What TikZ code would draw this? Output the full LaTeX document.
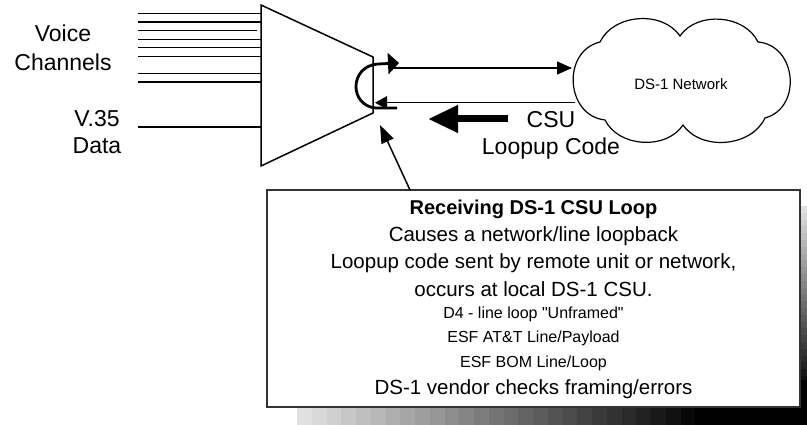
\documentclass[tikz,border=0pt]{standalone}
\usepackage{fontspec}
\setmainfont{Liberation Sans}
\setmonofont{Liberation Sans}
\usetikzlibrary{arrows.meta}
\newcommand{\sq}{{\ttfamily\char34}}
\begin{document}
\begin{tikzpicture}[x=1pt,y=-1pt,
  wire/.style={line width=1.2pt},
  edge/.style={line width=1.5pt},
  lbl/.style={font=\fontsize{23}{26}\selectfont, inner sep=0pt},
  boxtxt/.style={font=\fontsize{20.5}{22}\selectfont, inner sep=0pt},
  boxbold/.style={font=\fontsize{20}{22}\selectfont\bfseries, inner sep=0pt},
  boxsmall/.style={font=\fontsize{16}{18}\selectfont, inner sep=0pt},
  cloudtxt/.style={font=\fontsize{15}{17}\selectfont, inner sep=0pt}]
\useasboundingbox (0,0) rectangle (807,425);

% gradient shadow behind the box
\begin{scope}
\clip (297,206) rectangle (807,425);
\foreach \k in {0,...,27}{
  \pgfmathsetmacro\g{12+88*\k/27}
  \fill[black!\g] ({297+\k*14.75},380) rectangle ({297+(\k+1)*14.75+0.3},425);
  \fill[black!\g] (790,{206+\k*6.8}) rectangle (807,{206+(\k+1)*6.8+0.3});
}
\fill[black!100] (700,380) rectangle (807,425);
\fill[black, rounded corners=30pt] (700,395) rectangle (850,460);
\end{scope}

% info box
\node[draw=black!80, line width=1.6pt, fill=white, minimum width=533pt,
      minimum height=217pt, inner sep=0pt] (info) at (533.5,298.5) {};
\node[boxbold]  (t1) at (533.5,209) {Receiving DS-1 CSU Loop};
\node[boxtxt]   (t2) at (533.5,236) {Causes a network/line loopback};
\node[boxtxt]   (t3) at (533.5,263) {Loopup code sent by remote unit or network,};
\node[boxtxt]   (t4) at (533.5,289) {occurs at local DS-1 CSU.};
\node[boxsmall] (t5) at (533.5,314) {D4 - line loop \sq Unframed\sq};
\node[boxsmall] (t6) at (533.5,338) {ESF AT\&T Line/Payload};
\node[boxsmall] (t7) at (533.5,363) {ESF BOM Line/Loop};
\node[boxtxt]   (t8) at (533.5,389) {DS-1 vendor checks framing/errors};

% multiplexer
\coordinate (mtl) at (261,5);
\coordinate (mtr) at (373,57);
\coordinate (mbr) at (373,113);
\coordinate (mbl) at (261,166);
\draw[edge] (mtl) -- (mtr) -- (mbr) -- (mbl) -- cycle;

% input lines
\foreach \y in {13.3,22,39.3,47.7,56.3,73.3,82}{
  \draw[wire] (138,\y) -- (261,\y);
}
\draw[wire] (138,30.3) -- (257,30.3);
\draw[wire] (138,127) -- (261,127);

\node[lbl] (voice) at (63,33) {Voice};
\node[lbl] (chan)  at (63,62) {Channels};
\node[lbl] (v35)   at (97,119) {V.35};
\node[lbl] (data)  at (97,146) {Data};

% cloud
\draw[line width=1.2pt]
  (600,42) to[bend left=60] (680,36)
           to[bend left=60] (758,42)
           to[bend left=80, looseness=1.3] (765,118)
           to[bend left=60] (683,125)
           to[bend left=60] (605,120)
           to[bend left=80, looseness=1.3] cycle;
\node[cloudtxt] (net) at (681,84) {DS-1 Network};
\coordinate (netin) at (572,68);
\coordinate (netout) at (575,102.7);

% lines between mux and network
\coordinate (muxout) at (393,68);
\coordinate (muxin) at (375,102.7);
\draw[wire, -{Triangle[length=15pt,width=13pt]}] (muxout) -- (netin);
\draw[wire, -{Triangle[length=12pt,width=13pt]}] (netout) -- (muxin);

% loop arrow
\draw[line width=2.8pt, -{Triangle[length=11pt,width=21pt]}]
  (397,108) -- (376,108) .. controls (349,106) and (349,66) .. (378,64) -- (399,63);

% bold arrow and label
\coordinate (ba1) at (508,119);
\coordinate (ba2) at (428,119);
\draw[line width=7pt, -{Triangle[length=30pt,width=26pt]}] (ba1) -- (ba2);
\node[lbl] (csu)  at (551,120) {CSU};
\node[lbl] (code) at (551,149) {Loopup Code};

% pointer from box
\coordinate (ptr) at (410,190);
\coordinate (ptrtip) at (380,125);
\draw[edge, -{Triangle[length=18pt,width=13pt]}] (ptr) -- (ptrtip);
\end{tikzpicture}
\end{document}
